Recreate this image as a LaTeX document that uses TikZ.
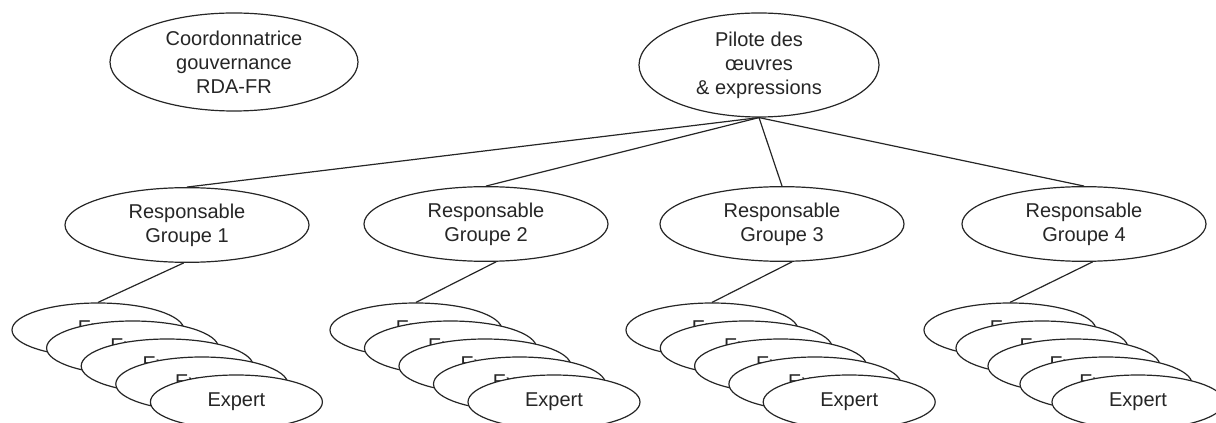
\documentclass[tikz,border=0pt]{standalone}
\usepackage{fontspec}
\setmainfont{Liberation Sans}
\usetikzlibrary{shapes.geometric}
\begin{document}
\begin{tikzpicture}[x=0.75pt,y=-0.75pt,
  every node/.style={font=\fontsize{15pt}{18pt}\selectfont, text=black!85, align=center},
  oval/.style={ellipse, draw=black!85, line width=0.9pt, fill=white, inner sep=0pt},
  coordoval/.style={oval, minimum width=186pt, minimum height=73.5pt},
  piloteoval/.style={oval, minimum width=180pt, minimum height=78pt},
  groupoval/.style={oval, minimum width=183pt, minimum height=56pt},
  expertoval/.style={oval, minimum width=129pt, minimum height=40.5pt, text height=0.716em, text depth=0pt},
  link/.style={draw=black!85, line width=0.9pt}]
\useasboundingbox (0,0) rectangle (1216,423);

\node[coordoval] (C) at (234,62) {Coordonnatrice\\gouvernance\\RDA-FR};
\node[piloteoval] (P) at (759,65) {Pilote des\\œuvres\\\& expressions};

\node[groupoval] (R1) at (187,225) {Responsable\\Groupe 1};
\node[groupoval] (R2) at (486,224) {Responsable\\Groupe 2};
\node[groupoval] (R3) at (782,224) {Responsable\\Groupe 3};
\node[groupoval] (R4) at (1084,224) {Responsable\\Groupe 4};

\foreach \g in {1,2,3,4} {
  \draw[link] (P.south) -- (R\g.north);
}

\foreach \g/\x/\d in {1/98/34.6, 2/416/34.5, 3/712/34.3, 4/1010/32} {
  \foreach \i in {0,...,4} {
    \pgfmathsetmacro{\sh}{(4-\i)*3.3}
    \node[expertoval] (E\g-\i) at ({\x+\i*\d},{330+\i*18}) {\hspace*{\sh pt}Expert};
  }
}

\foreach \g/\a in {1/-95, 2/-75, 3/-75, 4/-77} {
  \draw[link] (R\g.\a) -- (E\g-0.north);
}
\end{tikzpicture}
\end{document}
